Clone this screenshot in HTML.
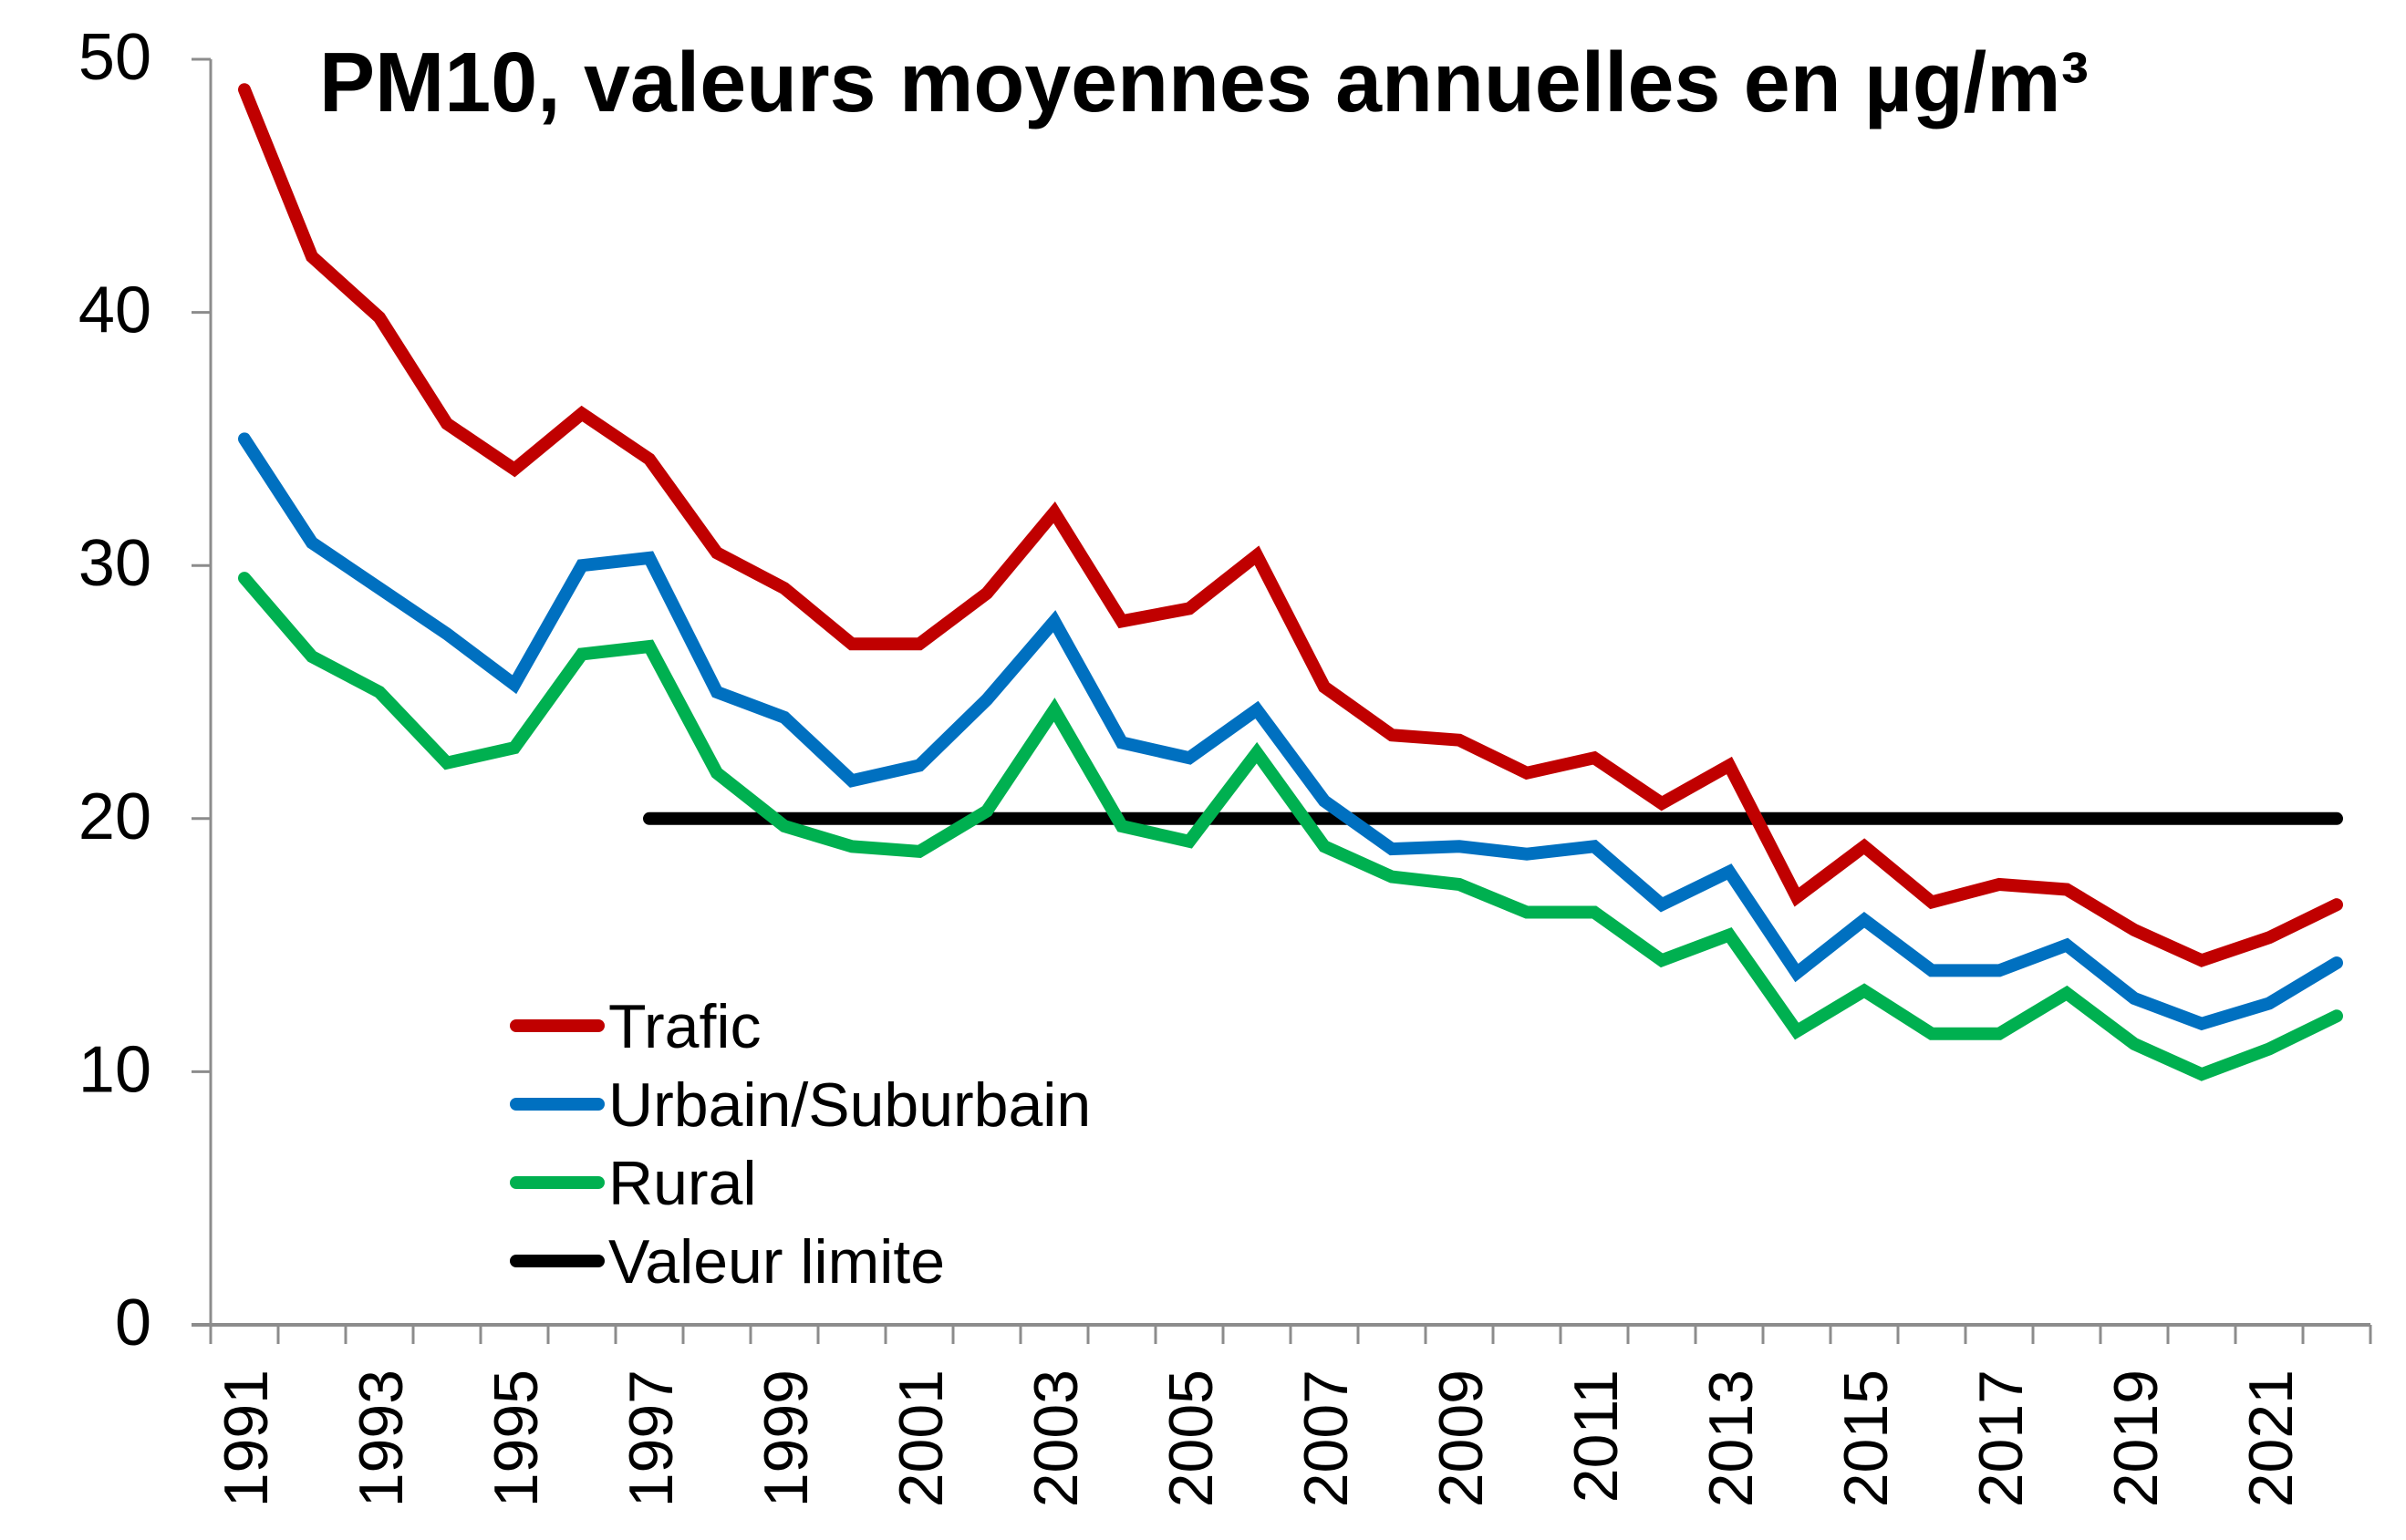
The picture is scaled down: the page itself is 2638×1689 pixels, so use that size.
<!DOCTYPE html>
<html><head><meta charset="utf-8">
<style>
html,body{margin:0;padding:0;background:#fff;}
svg{display:block;font-family:"Liberation Sans",Arial,sans-serif;}
</style></head>
<body>
<svg id="chart" width="2638" height="1689" viewBox="0 0 2638 1689" xmlns="http://www.w3.org/2000/svg">
<rect width="2638" height="1689" fill="#fff"/>
<text x="350" y="122" font-size="93" font-weight="bold" textLength="1940" lengthAdjust="spacingAndGlyphs">PM10, valeurs moyennes annuelles en µg/m³</text>
<g id="axes"></g>
<g id="series"></g>
<g id="legend"></g>
</svg>
<script>
const years = [1991,1992,1993,1994,1995,1996,1997,1998,1999,2000,2001,2002,2003,2004,2005,2006,2007,2008,2009,2010,2011,2012,2013,2014,2015,2016,2017,2018,2019,2020,2021,2022];
const trafic = [48.8,42.2,39.8,35.6,33.8,36.0,34.2,30.5,29.1,26.9,26.9,28.9,32.1,27.8,28.3,30.4,25.2,23.3,23.1,21.8,22.4,20.6,22.1,16.9,18.9,16.7,17.4,17.2,15.6,14.4,15.3,16.6];
const urbain = [35.0,30.9,29.1,27.3,25.3,30.0,30.3,25.0,24.0,21.5,22.1,24.7,27.8,23.0,22.4,24.3,20.7,18.8,18.9,18.6,18.9,16.6,17.9,13.9,16.0,14.0,14.0,15.0,12.9,11.9,12.7,14.3];
const rural = [29.5,26.4,25.0,22.2,22.8,26.5,26.8,21.8,19.7,18.9,18.7,20.3,24.3,19.7,19.1,22.6,18.9,17.7,17.4,16.3,16.3,14.4,15.4,11.6,13.2,11.5,11.5,13.1,11.1,9.9,10.9,12.2];
const limitStartYear = 1997;
const limitValue = 20;
const yTicks = [0,10,20,30,40,50];
const xLabels = [1991,1993,1995,1997,1999,2001,2003,2005,2007,2009,2011,2013,2015,2017,2019,2021];
const legendLabels = ["Trafic","Urbain/Suburbain","Rural","Valeur limite"];

const NS="http://www.w3.org/2000/svg";
const X0=231, X1=2599, Y0=1453, YTOP=65, YMAX=50;
const step=(X1-X0)/years.length;
function xScale(i){return X0+step*(i+0.5);}
function yScale(v){return Y0-(v/YMAX)*(Y0-YTOP);}
function mk(tag,attrs,parent){const e=document.createElementNS(NS,tag);for(const k in attrs)e.setAttribute(k,attrs[k]);parent.appendChild(e);return e;}

const axes=document.getElementById('axes');
const ya=mk('line',{x1:X0,y1:YTOP,x2:X0,y2:Y0,stroke:'#8c8c8c','stroke-width':3},axes);


const xa=mk('line',{x1:X0-21,y1:Y0,x2:X1,y2:Y0,stroke:'#8c8c8c','stroke-width':4},axes);


yTicks.forEach(v=>{
  const y=yScale(v);
  const t=mk('line',{x1:X0-21,y1:y,x2:X0,y2:y,stroke:'#8c8c8c','stroke-width':3},axes);
  
  
  const l=mk('text',{x:166,y:y+22,'font-size':72,'text-anchor':'end',fill:'#000'},axes);
  l.textContent=v;
  
  
});
for(let i=0;i<=years.length;i++){
  const x=X0+step*i;
  const t=mk('line',{x1:x,y1:Y0,x2:x,y2:Y0+21,stroke:'#8c8c8c','stroke-width':3},axes);
  
  
}
xLabels.forEach(yr=>{
  const i=years.indexOf(yr);
  const x=xScale(i)+25;
  const l=mk('text',{x:x,y:1502,'font-size':68,'text-anchor':'end',transform:`rotate(-90 ${x} 1502)`},axes);
  l.textContent=yr;
  
  
});

const series=document.getElementById('series');
function drawLine(vals,color,name){
  const pts=vals.map((v,i)=>xScale(i).toFixed(1)+','+yScale(v).toFixed(1)).join(' ');
  const p=mk('polyline',{points:pts,fill:'none',stroke:color,'stroke-width':14,'stroke-linejoin':'miter','stroke-linecap':'round'},series);
  
  
}
const li=years.indexOf(limitStartYear);
const lim=mk('line',{x1:xScale(li),y1:yScale(limitValue),x2:xScale(years.length-1),y2:yScale(limitValue),stroke:'#000','stroke-width':14,'stroke-linecap':'round'},series);


drawLine(rural,'#00b050','rural-line');
drawLine(urbain,'#0070c0','urbain-line');
drawLine(trafic,'#c00000','trafic-line');

const legend=document.getElementById('legend');
const colors=['#c00000','#0070c0','#00b050','#000'];
const names=['legend-trafic','legend-urbain','legend-rural','legend-limit'];
legendLabels.forEach((lab,i)=>{
  const y=1125+i*86;
  const g=mk('g',{},legend);
  
  
  mk('line',{x1:566,y1:y,x2:656,y2:y,stroke:colors[i],'stroke-width':14,'stroke-linecap':'round'},g);
  const t=mk('text',{x:667,y:y+24,'font-size':68},g);
  t.textContent=lab;
});
</script>
</body></html>
